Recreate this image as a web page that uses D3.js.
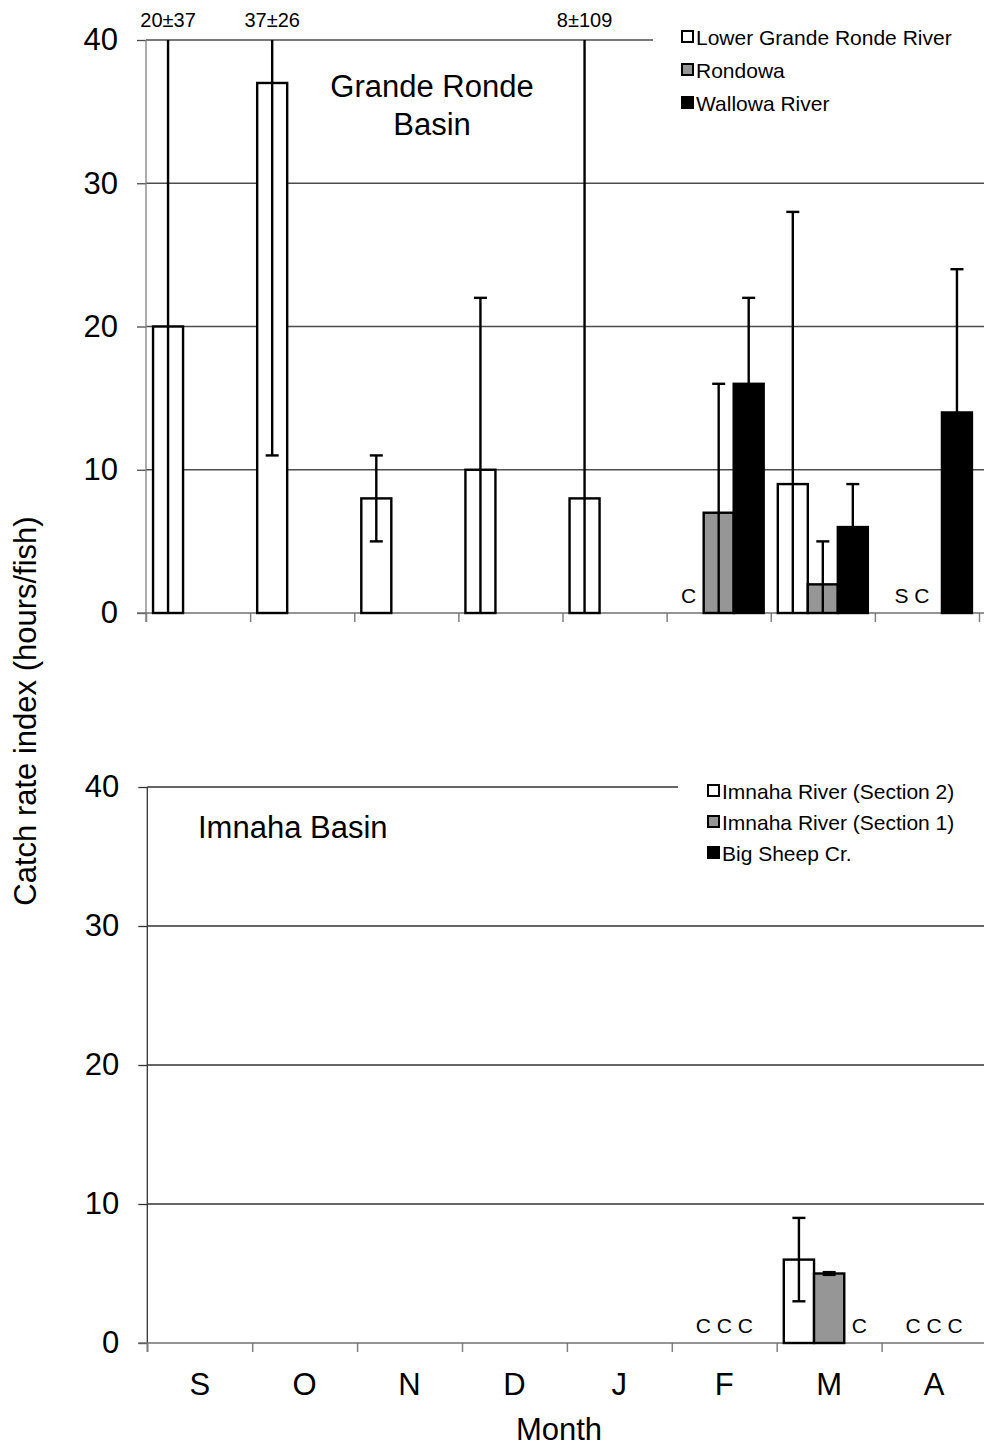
<!DOCTYPE html>
<html>
<head>
<meta charset="utf-8">
<script src="https://cdn.jsdelivr.net/npm/d3@7"></script>
<style>
  html, body { margin: 0; padding: 0; background: #fff; }
  svg { display: block; font-family: "Liberation Sans", Arial, sans-serif; }
</style>
</head>
<body>
<svg id="chart" width="984" height="1446"></svg>
<script>
// ---------------- data ----------------
const months = ["S", "O", "N", "D", "J", "F", "M", "A"];
const yTicks = [0, 10, 20, 30, 40];

// Grande Ronde Basin
const grSeries = ["Lower Grande Ronde River", "Rondowa", "Wallowa River"];
const lowerGrandeRonde    = [20, 37, 8, 10, 8, null, 9, null];
const lowerGrandeRondeErr = [37, 26, 3, 12, 109, null, 19, null];
const rondowa             = [null, null, null, null, null, 7, 2, null];
const rondowaErr          = [null, null, null, null, null, 9, 3, null];
const wallowa             = [null, null, null, null, null, 16, 6, 14];
const wallowaErr          = [null, null, null, null, null, 6, 3, 10];
const grClipLabels = [
  { month: "S", series: 0, text: "20±37" },
  { month: "O", series: 0, text: "37±26" },
  { month: "J", series: 0, text: "8±109" }
];
const grNoteLabels = [
  { month: "F", series: 0, text: "C" },
  { month: "A", series: 0.5, text: "S C" }
];

// Imnaha Basin
const imSeries = ["Imnaha River (Section 2)", "Imnaha River (Section 1)", "Big Sheep Cr."];
const imnahaSec2    = [null, null, null, null, null, null, 6, null];
const imnahaSec2Err = [null, null, null, null, null, null, 3, null];
const imnahaSec1    = [null, null, null, null, null, null, 5, null];
const imnahaSec1Err = [null, null, null, null, null, null, 0.1, null];
const bigSheep      = [null, null, null, null, null, null, null, null];
const bigSheepErr   = [null, null, null, null, null, null, null, null];
const imNoteLabels = [
  { month: "F", series: 1, text: "C C C" },
  { month: "M", series: 2, text: "C" },
  { month: "A", series: 1, text: "C C C" }
];

const fills = ["#ffffff", "#969696", "#000000"];

// ---------------- drawing ----------------
const svg = d3.select("#chart");
const W = 984;

function panel(cfg) {
  const g = svg.append("g");
  const x = d3.scaleBand().domain(months).range([cfg.x0, cfg.x1]).padding(0);
  const xb = d3.scaleLinear().domain([0, months.length]).range([cfg.x0, cfg.x1]);
  const xs = d3.scaleBand().domain([0, 1, 2]).range([0, x.bandwidth()]).paddingInner(0).paddingOuter(0.235);
  const y = d3.scaleLinear().domain([0, 40]).range([cfg.yb, cfg.yt]);

  // gridlines
  g.append("g").selectAll("line").data(yTicks.filter(d => d > 0)).join("line")
    .attr("x1", cfg.x0).attr("x2", W)
    .attr("y1", d => y(d)).attr("y2", d => y(d))
    .attr("stroke", cfg.gridColor).attr("stroke-width", 1.3);

  // y axis
  const ya = g.append("g").attr("transform", `translate(${cfg.x0},0)`)
    .call(d3.axisLeft(y).tickValues(yTicks).tickSize(9).tickPadding(19).tickSizeOuter(0));
  ya.select(".domain").remove();
  ya.selectAll(".tick line").attr("stroke", cfg.gridColor).attr("stroke-width", 1.3);
  ya.selectAll(".tick text").attr("font-size", 31).attr("fill", "#000")
    .attr("font-family", "'Liberation Sans', Arial, sans-serif");
  g.append("line").attr("x1", cfg.x0).attr("x2", cfg.x0)
    .attr("y1", y(40)).attr("y2", y(0) + 9)
    .attr("stroke", cfg.axisColor).attr("stroke-width", 1.3);

  // x axis (boundary ticks)
  const xa = g.append("g").attr("transform", `translate(0,${y(0)})`)
    .call(d3.axisBottom(xb).tickValues(d3.range(0, months.length + 1)).tickSize(9).tickFormat("").tickSizeOuter(0));
  xa.select(".domain").remove();
  xa.selectAll(".tick line").attr("stroke", "#808080").attr("stroke-width", 1.5);
  g.append("line").attr("x1", cfg.x0 - 9).attr("x2", W)
    .attr("y1", y(0)).attr("y2", y(0))
    .attr("stroke", "#707070").attr("stroke-width", 1.3);

  if (cfg.showMonths) {
    const ml = g.append("g").attr("transform", `translate(0,${y(0)})`)
      .call(d3.axisBottom(x).tickSize(0).tickPadding(30));
    ml.select(".domain").remove();
    ml.selectAll(".tick text").attr("font-size", 31).attr("fill", "#000")
      .attr("font-family", "'Liberation Sans', Arial, sans-serif");
  }

  // bars
  const clip = v => Math.max(0, Math.min(40, v));
  cfg.values.forEach((vals, si) => {
    const rows = months.map((m, i) => ({ m, v: vals[i], e: cfg.errors[si][i] })).filter(d => d.v != null);
    g.append("g").selectAll("rect").data(rows).join("rect")
      .attr("x", d => x(d.m) + xs(si))
      .attr("width", xs.bandwidth())
      .attr("y", d => y(d.v))
      .attr("height", d => y(0) - y(d.v))
      .attr("fill", fills[si]).attr("stroke", "#000").attr("stroke-width", 2.4);
  });
  // error bars
  cfg.values.forEach((vals, si) => {
    const rows = months.map((m, i) => ({ m, v: vals[i], e: cfg.errors[si][i] })).filter(d => d.v != null && d.e != null);
    const eg = g.append("g");
    rows.forEach(d => {
      const cx = x(d.m) + xs(si) + xs.bandwidth() / 2;
      const hi = d.v + d.e, lo = d.v - d.e;
      eg.append("line").attr("x1", cx).attr("x2", cx)
        .attr("y1", y(clip(hi))).attr("y2", y(clip(lo)))
        .attr("stroke", "#000").attr("stroke-width", 2.4);
      if (hi <= 40) eg.append("line").attr("x1", cx - 6.5).attr("x2", cx + 6.5)
        .attr("y1", y(hi)).attr("y2", y(hi)).attr("stroke", "#000").attr("stroke-width", 2.4);
      if (lo >= 0) eg.append("line").attr("x1", cx - 6.5).attr("x2", cx + 6.5)
        .attr("y1", y(lo)).attr("y2", y(lo)).attr("stroke", "#000").attr("stroke-width", 2.4);
    });
  });

  // clipped value labels
  g.append("g").selectAll("text").data(cfg.clipLabels || []).join("text")
    .attr("x", d => x(d.month) + xs(d.series) + xs.bandwidth() / 2)
    .attr("y", y(40) - 13)
    .attr("text-anchor", "middle").attr("font-size", 20)
    .text(d => d.text);

  // note letters
  g.append("g").selectAll("text").data(cfg.notes).join("text")
    .attr("x", d => x(d.month) + xs(0) + xs.bandwidth() * (d.series + 0.5))
    .attr("y", y(0) - 10)
    .attr("text-anchor", "middle").attr("font-size", 21)
    .text(d => d.text);

  // legend
  const lg = g.append("g");
  lg.append("rect").attr("x", cfg.legX - cfg.legPad).attr("y", cfg.legY - 20)
    .attr("width", W - cfg.legX + cfg.legPad).attr("height", 3 * cfg.legStep + 10).attr("fill", "#fff");
  cfg.series.forEach((s, i) => {
    const ly = cfg.legY + i * cfg.legStep;
    lg.append("rect").attr("x", cfg.legX + 1).attr("y", ly - 6).attr("width", 11).attr("height", 11)
      .attr("fill", fills[i]).attr("stroke", "#000").attr("stroke-width", 2);
    lg.append("text").attr("x", cfg.legX + 15).attr("y", ly + 7.5)
      .attr("font-size", 21).text(s);
  });

  // title
  const t = g.append("text").attr("font-size", 31).attr("text-anchor", cfg.titleAnchor);
  cfg.title.forEach((line, i) => {
    t.append("tspan").attr("x", cfg.titleX).attr("y", cfg.titleY + i * 37.5).text(line);
  });
  return { x, y };
}

panel({
  x0: 146, x1: 979, yt: 40, yb: 613,
  gridColor: "#4d4d4d", axisColor: "#808080",
  values: [lowerGrandeRonde, rondowa, wallowa],
  errors: [lowerGrandeRondeErr, rondowaErr, wallowaErr],
  series: grSeries, clipLabels: grClipLabels, notes: grNoteLabels,
  legX: 681, legY: 37, legStep: 33, legPad: 28,
  title: ["Grande Ronde", "Basin"], titleX: 432, titleY: 97, titleAnchor: "middle",
  showMonths: false
});

panel({
  x0: 147.3, x1: 986.5, yt: 787, yb: 1343,
  gridColor: "#333333", axisColor: "#333333",
  values: [imnahaSec2, imnahaSec1, bigSheep],
  errors: [imnahaSec2Err, imnahaSec1Err, bigSheepErr],
  series: imSeries, clipLabels: [], notes: imNoteLabels,
  legX: 707, legY: 791, legStep: 31, legPad: 29,
  title: ["Imnaha Basin"], titleX: 198, titleY: 838, titleAnchor: "start",
  showMonths: true
});

// shared axis titles
svg.append("text")
  .attr("transform", "translate(36,711) rotate(-90)")
  .attr("text-anchor", "middle").attr("font-size", 31)
  .text("Catch rate index (hours/fish)");
svg.append("text")
  .attr("x", 559).attr("y", 1440)
  .attr("text-anchor", "middle").attr("font-size", 31)
  .text("Month");
</script>
</body>
</html>
